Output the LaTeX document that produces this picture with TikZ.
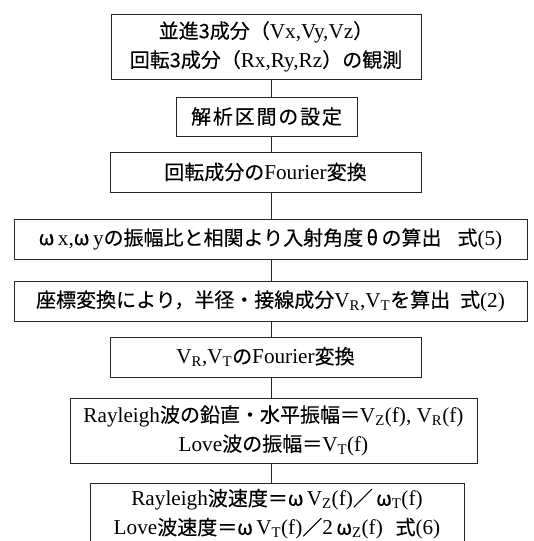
\documentclass[tikz,border=0pt]{standalone}
\usepackage{fontspec}
\setmainfont[Scale=1.06]{Liberation Serif}
\newfontfamily\jp[FakeBold=0.25]{Noto Sans CJK JP}
\newcommand\J[1]{{\jp #1}}
\newcommand\sbs[1]{\textsubscript{#1}}
\begin{document}
\begin{tikzpicture}[x=1pt,y=-1pt,
  box/.style={draw=black!85,line width=1pt,align=center,inner sep=0pt,
    font=\fontsize{20}{29}\selectfont},
  link/.style={draw=black!85,line width=1pt}]
\useasboundingbox (0,0) rectangle (534,541);
\coordinate (spine) at (271,0);
\node[box,minimum width=310pt,minimum height=65pt] (b1) at (266,46.5)
  {\J{並進3成分（}Vx,Vy,Vz\J{）}\\\J{回転3成分（}Rx,Ry,Rz\J{）の観測}};
\node[box,minimum width=181pt,minimum height=39pt] (b2) at (266.5,116.5)
  {\J{解\kern1.8pt 析\kern1.8pt 区\kern1.8pt 間\kern1.8pt の\kern1.8pt 設\kern1.8pt 定}};
\node[box,minimum width=311pt,minimum height=40pt] (b3) at (265.5,172)
  {\J{回転成分の}Fourier\J{変換}};
\node[box,minimum width=513pt,minimum height=40pt] (b4) at (270.5,239)
  {\J{ω}\,x,\J{ω}\,y\J{の振幅比と相関より入射角度\,θ\,の算出\hspace{0.8em}式}(5)};
\node[box,minimum width=513pt,minimum height=40pt] (b5) at (270.5,301)
  {\J{座標変換により，半径・接線成分}V\sbs{R},V\sbs{T}\J{を算出\hspace{0.5em}式}(2)};
\node[box,minimum width=311pt,minimum height=40pt] (b6) at (265.5,357)
  {V\sbs{R},V\sbs{T}\J{の}Fourier\J{変換}};
\node[box,minimum width=407pt,minimum height=65pt] (b7) at (273.5,430.5)
  {Rayleigh\J{波の鉛直・水平振幅＝}V\sbs{Z}(f),\ V\sbs{R}(f)\\Love\J{波の振幅＝}V\sbs{T}(f)};
\node[box,minimum width=374pt,minimum height=62pt] (b8) at (277,514)
  {Rayleigh\J{波速度＝ω\,}V\sbs{Z}(f)\J{／\,ω}\sbs{T}(f)\\Love\J{波速度＝ω\,}V\sbs{T}(f)\J{／}2\,\J{ω}\sbs{Z}(f)\hspace{0.6em}\J{式}(6)};
\draw[link] (b1.south -| spine) -- (b2.north -| spine);
\draw[link] (b2.south -| spine) -- (b3.north -| spine);
\draw[link] (b3.south -| spine) -- (b4.north -| spine);
\draw[link] (b4.south -| spine) -- (b5.north -| spine);
\draw[link] (b5.south -| spine) -- (b6.north -| spine);
\draw[link] (b6.south -| spine) -- (b7.north -| spine);
\draw[link] (b7.south -| spine) -- (b8.north -| spine);
\end{tikzpicture}
\end{document}
